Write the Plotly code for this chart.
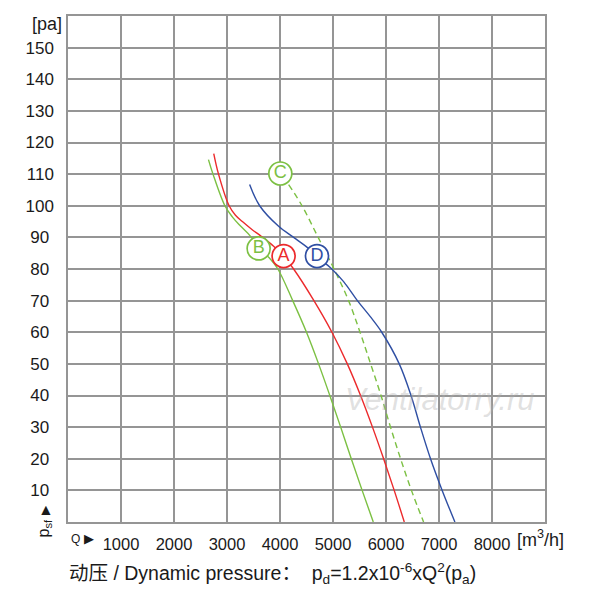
import plotly.graph_objects as go

# curve A (red)
a_q = [2750, 2840, 3040, 3160, 3290, 3470, 3640, 3880, 4070, 4257, 4640, 4980, 5270, 5520, 5745, 5955, 6155, 6345]
a_p = [116.5, 110, 100, 97, 95, 92.5, 90.4, 87.2, 84, 80, 70, 60, 50, 40, 30, 20, 10, 0]
# curve B (green)
b_q = [2650, 2736, 2960, 3100, 3260, 3440, 3597, 3800, 3960, 4240, 4500, 4728, 4940, 5145, 5345, 5550, 5760]
b_p = [114.6, 110, 100, 96.5, 93.5, 90.4, 86.5, 83.5, 80, 70, 60, 50, 40, 30, 20, 10, 0]
# curve C (green dashed)
c_q = [4163, 4415, 4720, 5020, 5294, 5510, 5710, 5906, 6085, 6275, 6480, 6709]
c_p = [106.7, 100, 90, 80, 70, 60, 50, 40, 30, 20, 10, 0]
# curve D (blue)
d_q = [3427, 3616, 3974, 4257, 4540, 4730, 4953, 5200, 5460, 5700, 5920, 6250, 6472, 6650, 6840, 7060, 7300]
d_p = [106.7, 100, 93.5, 90, 86.5, 83.5, 80.4, 76, 70, 65, 60, 50, 40, 30, 20, 10, 0]

# circled labels
lab_names = ["A", "B", "C", "D"]
lab_q = [4068, 3597, 4006, 4698]
lab_p = [84.1, 86.5, 110.2, 84.1]

x_ticks = [1000, 2000, 3000, 4000, 5000, 6000, 7000, 8000, 9000]
x_text = ["1000", "2000", "3000", "4000", "5000", "6000", "7000", "8000", ""]
y_ticks = [10, 20, 30, 40, 50, 60, 70, 80, 90, 100, 110, 120, 130, 140, 150, 160]
y_text = [str(v) + ("\u00a0" if v < 100 else "") for v in y_ticks[:-1]] + [""]

RED = "#ec2a2c"
GREEN = "#7cc043"
BLUE = "#2f4fa3"
lab_colors = [RED, GREEN, GREEN, BLUE]

fig = go.Figure()
fig.add_trace(go.Scatter(x=b_q, y=b_p, mode="lines", line=dict(color=GREEN, width=1.4, shape="spline", smoothing=1.0)))
fig.add_trace(go.Scatter(x=a_q, y=a_p, mode="lines", line=dict(color=RED, width=1.4, shape="spline", smoothing=1.0)))
fig.add_trace(go.Scatter(x=c_q, y=c_p, mode="lines", line=dict(color=GREEN, width=1.4, dash="6px,4px", shape="spline", smoothing=1.0)))
fig.add_trace(go.Scatter(x=d_q, y=d_p, mode="lines", line=dict(color=BLUE, width=1.4, shape="spline", smoothing=1.0)))
fig.add_trace(go.Scatter(
    x=lab_q, y=lab_p, mode="markers+text", text=lab_names,
    marker=dict(size=23, color="white", line=dict(color=lab_colors, width=1.7)),
    textposition="middle center",
    textfont=dict(color=lab_colors, size=18, family="Liberation Sans, Arial"),
))

fig.add_annotation(text="Ventilatorry.ru", x=0.78, y=0.243, xref="paper", yref="paper",
                   xanchor="center", yanchor="middle", showarrow=False,
                   font=dict(size=31, color="rgba(175,175,175,0.38)",
                             family="Liberation Sans, Arial", style="italic"))

fig.update_xaxes(range=[0, 9000], tickvals=x_ticks, ticktext=x_text, showgrid=True,
                 gridcolor="#959595", gridwidth=1.5, showline=True, linecolor="#959595",
                 linewidth=1.5, mirror=True, zeroline=False, ticks="", ticklabelstandoff=6,
                 tickfont=dict(size=16.5, color="#1a1a1a", family="Liberation Sans, Arial"))
fig.update_yaxes(range=[0, 160], tickvals=y_ticks, ticktext=y_text, showgrid=True,
                 gridcolor="#959595", gridwidth=1.5, showline=True, linecolor="#959595",
                 linewidth=1.5, mirror=True, zeroline=False, ticks="", ticklabelstandoff=9,
                 tickfont=dict(size=17, color="#1a1a1a", family="Liberation Sans, Arial"))

font = dict(family="Liberation Sans, Arial", color="#1a1a1a")
fig.add_annotation(text="[pa]", xref="paper", x=0, xanchor="right", xshift=-4, y=157.5,
                   showarrow=False, font=dict(size=18, **font))
fig.add_annotation(text="[m<sup>3</sup>/h]", x=9000, y=0, yanchor="top", xshift=-5, yshift=-3,
                   showarrow=False, font=dict(size=18, **font))
fig.add_annotation(text="Q <span style='font-size:13px'>\u25b6</span>", x=0, y=0, xanchor="left",
                   yanchor="top", xshift=1, yshift=-7, showarrow=False, font=dict(size=12, **font))
fig.add_annotation(text="p<sub>sf</sub> <span style='font-size:12px'>\u25b6</span>", xref="paper", x=0,
                   xanchor="right", xshift=-13, y=0, textangle=-90, showarrow=False, font=dict(size=16, **font))
fig.add_annotation(text="动压 / Dynamic pressure：  p<sub>d</sub>=1.2x10<sup>-6</sup>xQ<sup>2</sup>(p<sub>a</sub>)",
                   xref="paper", yref="paper", x=-0.003, y=-0.1015, xanchor="left", yanchor="middle",
                   showarrow=False, font=dict(size=19.5, family="Liberation Sans, Noto Sans CJK SC", color="#1a1a1a"))

fig.update_layout(width=600, height=597, showlegend=False, plot_bgcolor="white", paper_bgcolor="white",
                  margin=dict(l=60, r=63, t=6, b=83))

fig.write_html("out.html")
